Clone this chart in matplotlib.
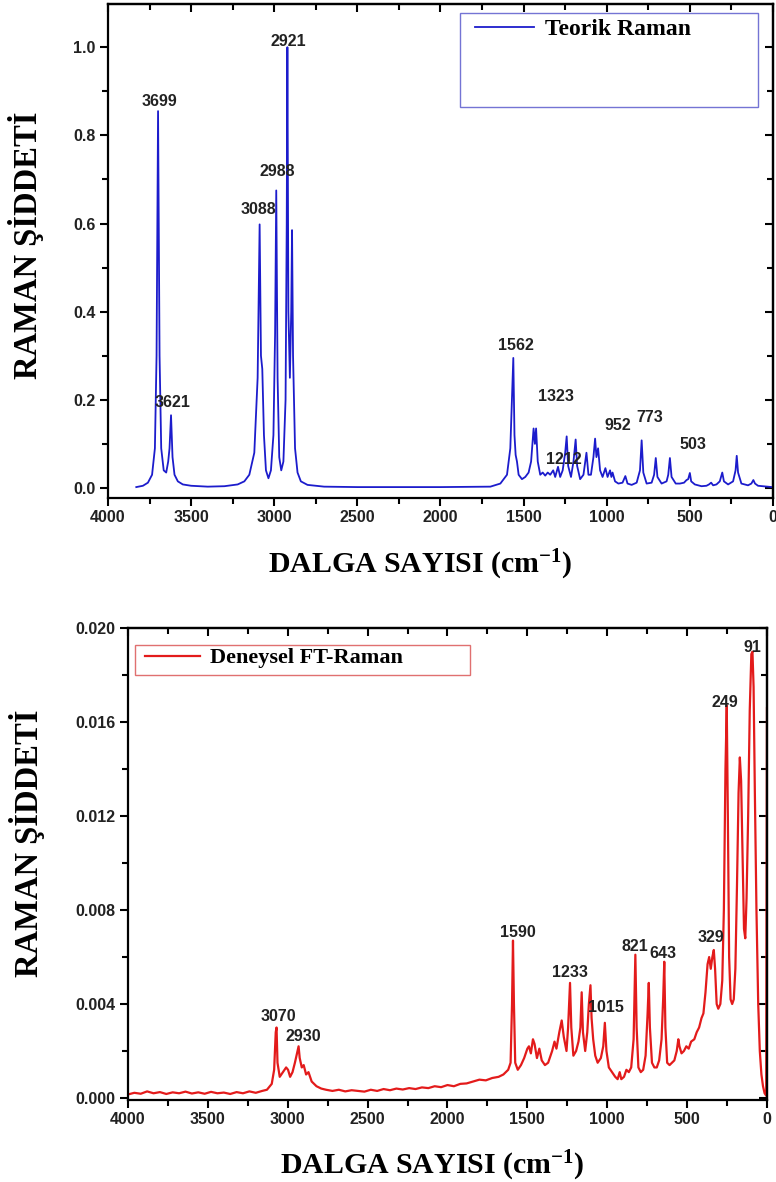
import matplotlib
matplotlib.use("Agg")
import matplotlib.pyplot as plt
from matplotlib.ticker import MultipleLocator, FormatStrFormatter
from matplotlib.patches import Rectangle

# ---------------- data ----------------
top_wavenumber = [3830, 3790, 3760, 3735, 3718, 3708, 3699, 3690, 3680, 3665, 3650, 3638, 3630,
                  3621, 3612, 3600, 3580, 3550, 3500, 3400, 3300, 3220, 3180, 3150, 3120, 3100,
                  3088, 3080, 3072, 3062, 3050, 3035, 3020, 3005, 2995, 2988, 2980, 2970, 2958,
                  2945, 2932, 2925, 2921, 2915, 2906, 2898, 2893, 2887, 2875, 2860, 2840, 2800,
                  2700, 2500, 2000, 1700, 1640, 1600, 1580, 1570, 1562, 1555, 1548, 1540, 1530,
                  1510, 1490, 1470, 1455, 1440, 1432, 1425, 1415, 1400, 1385, 1370, 1355, 1340,
                  1322, 1310, 1293, 1280, 1265, 1250, 1241, 1232, 1215, 1200, 1187, 1178, 1160,
                  1140, 1122, 1110, 1095, 1080, 1070, 1062, 1052, 1040, 1025, 1008, 995, 980,
                  972, 965, 950, 930, 905, 888, 875, 850, 820, 800, 790, 780, 760, 730, 715,
                  705, 695, 670, 640, 630, 620, 610, 585, 560, 535, 520, 510, 500, 492, 470,
                  430, 400, 385, 372, 360, 340, 320, 305, 295, 270, 240, 225, 218, 210, 190,
                  150, 130, 118, 108, 90, 60, 30, 5]
top_intensity = [0.002, 0.005, 0.012, 0.03, 0.09, 0.30, 0.855, 0.30, 0.09, 0.04, 0.035, 0.06, 0.09,
                 0.165, 0.07, 0.03, 0.015, 0.008, 0.005, 0.003, 0.004, 0.008, 0.015, 0.03, 0.08, 0.25,
                 0.598, 0.30, 0.27, 0.12, 0.04, 0.022, 0.04, 0.12, 0.35, 0.675, 0.25, 0.07, 0.04,
                 0.06, 0.20, 0.60, 1.0, 0.40, 0.25, 0.40, 0.585, 0.30, 0.09, 0.035, 0.015, 0.007,
                 0.003, 0.002, 0.002, 0.003, 0.01, 0.03, 0.09, 0.20, 0.295, 0.12, 0.075, 0.06, 0.03,
                 0.02, 0.025, 0.035, 0.06, 0.135, 0.10, 0.135, 0.06, 0.03, 0.035, 0.028, 0.035, 0.03,
                 0.04, 0.025, 0.048, 0.025, 0.04, 0.08, 0.117, 0.05, 0.025, 0.06, 0.11, 0.05, 0.02,
                 0.03, 0.08, 0.03, 0.03, 0.07, 0.112, 0.07, 0.09, 0.04, 0.025, 0.045, 0.025, 0.04,
                 0.025, 0.035, 0.015, 0.01, 0.012, 0.027, 0.01, 0.007, 0.012, 0.04, 0.108, 0.035, 0.01, 0.012, 0.03,
                 0.068, 0.025, 0.01, 0.015, 0.03, 0.068, 0.025, 0.01, 0.01, 0.012, 0.018, 0.02, 0.034, 0.015, 0.008,
                 0.004, 0.005, 0.008, 0.012, 0.006, 0.008, 0.015, 0.035, 0.015, 0.008, 0.015, 0.04, 0.073, 0.035, 0.01,
                 0.006, 0.01, 0.018, 0.01, 0.005, 0.004, 0.003, 0.002]

bottom_wavenumber = [4000, 3960, 3920, 3880, 3840, 3800, 3760, 3720, 3680, 3640, 3600, 3560, 3520,
                     3480, 3440, 3400, 3360, 3320, 3280, 3240, 3200, 3160, 3130, 3100, 3085, 3075,
                     3070, 3064, 3050, 3030, 3010, 2998, 2985, 2970, 2955, 2945, 2932, 2925, 2912,
                     2900, 2885, 2870, 2850, 2820, 2790, 2760, 2720, 2680, 2640, 2600, 2560, 2520,
                     2480, 2440, 2400, 2360, 2320, 2280, 2240, 2200, 2160, 2120, 2080, 2040, 2000,
                     1960, 1920, 1880, 1840, 1800, 1760, 1720, 1680, 1650, 1620, 1605, 1596, 1590,
                     1584, 1576, 1560, 1540, 1520, 1500, 1490, 1478, 1465, 1455, 1440, 1425, 1410,
                     1390, 1370, 1345, 1330, 1318, 1300, 1285, 1272, 1255, 1245, 1233, 1225, 1212,
                     1195, 1180, 1168, 1160, 1152, 1138, 1125, 1115, 1105, 1098, 1088, 1075, 1060,
                     1040, 1025, 1015, 1005, 990, 970, 950, 935, 922, 912, 895, 880, 865, 850, 835,
                     824, 816, 805, 790, 775, 760, 748, 740, 733, 720, 705, 690, 675, 660, 650, 643,
                     636, 625, 610, 595, 580, 565, 555, 548, 535, 520, 505, 490, 475, 455, 440, 425,
                     410, 398, 385, 372, 362, 352, 342, 333, 325, 315, 305, 292, 280, 270, 260, 252,
                     245, 237, 228, 218, 208, 198, 188, 178, 170, 162, 152, 144, 136, 128, 118, 108,
                     98, 91, 84, 76, 66, 55, 45, 35, 25, 15, 5, 0]
bottom_intensity = [0.00015, 0.00022, 0.00018, 0.00028, 0.00020, 0.00025, 0.00017, 0.00024, 0.00020,
                    0.00027, 0.00019, 0.00024, 0.00018, 0.00026, 0.00020, 0.00023, 0.00017, 0.00025,
                    0.00020, 0.00028, 0.00022, 0.00030, 0.00035, 0.0006, 0.0012, 0.0028, 0.0030,
                    0.0015, 0.0009, 0.0011, 0.0013, 0.0012, 0.0009, 0.0011, 0.0015, 0.0018, 0.0022,
                    0.0017, 0.0013, 0.0014, 0.0010, 0.0011, 0.0007, 0.0005, 0.0004, 0.00035, 0.0003,
                    0.00035, 0.00028, 0.00033, 0.0003, 0.00027, 0.00035, 0.0003, 0.00038, 0.00033,
                    0.0004, 0.00036, 0.00042, 0.00038, 0.00045, 0.00042, 0.0005, 0.00046, 0.00055,
                    0.0005, 0.0006, 0.00062, 0.0007, 0.00078, 0.00075, 0.00085, 0.0009, 0.0010,
                    0.0012, 0.0015, 0.0040, 0.0067, 0.0040, 0.0015, 0.0012, 0.0014, 0.0017, 0.0021,
                    0.0022, 0.0019, 0.0025, 0.0023, 0.0017, 0.0021, 0.0016, 0.0014, 0.0015, 0.0020,
                    0.0024, 0.0021, 0.0028, 0.0033, 0.0026, 0.0020, 0.0030, 0.0049, 0.0030, 0.0018,
                    0.0020, 0.0024, 0.0030, 0.0045, 0.0028, 0.0020, 0.0028, 0.0040, 0.0048, 0.0034,
                    0.0025, 0.0018, 0.0015, 0.0017, 0.0022, 0.0032, 0.0020, 0.0013, 0.0011, 0.0009,
                    0.0008, 0.0011, 0.0008, 0.0009, 0.0012, 0.0011, 0.0013, 0.0025, 0.0061, 0.0030,
                    0.0013, 0.0011, 0.0012, 0.0018, 0.0035, 0.0049, 0.0030, 0.0015, 0.0013, 0.0013,
                    0.0016, 0.0025, 0.0042, 0.0058, 0.0030, 0.0015, 0.0014, 0.0015, 0.0016, 0.0020,
                    0.0025, 0.0022, 0.0019, 0.0020, 0.0022, 0.0021, 0.0024, 0.0025, 0.0028, 0.0030,
                    0.0034, 0.0036, 0.0045, 0.0057, 0.0060, 0.0055, 0.0060, 0.0063, 0.0055, 0.0040,
                    0.0038, 0.0040, 0.0050, 0.0080, 0.0140, 0.0167, 0.0120, 0.0060, 0.0042, 0.0040,
                    0.0042, 0.0055, 0.0090, 0.0130, 0.0145, 0.0135, 0.0100, 0.0072, 0.0068, 0.0085,
                    0.0120, 0.0165, 0.0189, 0.0190, 0.0175, 0.0130, 0.0080, 0.0040, 0.0020, 0.0010,
                    0.0005, 0.0002, 0.0001, 0.0166]

# peak labels: (text, x, y) in data coordinates
top_labels = [("3699", 3690, 0.877), ("3621", 3615, 0.193), ("3088", 3098, 0.632),
              ("2988", 2983, 0.718), ("2921", 2917, 1.014), ("1562", 1545, 0.323),
              ("1323", 1305, 0.207), ("1212", 1257, 0.064), ("952", 932, 0.141),
              ("773", 740, 0.161), ("503", 481, 0.098)]
bottom_labels = [("3070", 3061, 0.00345), ("2930", 2905, 0.0026), ("1590", 1559, 0.00706),
                 ("1233", 1235, 0.00535), ("1015", 1010, 0.00385), ("821", 826, 0.00643),
                 ("643", 651, 0.00617), ("329", 351, 0.00685), ("249", 263, 0.01685),
                 ("91", 94, 0.0192)]

top_legend = "Teorik Raman"
bottom_legend = "Deneysel FT-Raman"
ylabel_text = "RAMAN ŞİDDETİ"
xlabel_text = "DALGA SAYISI (cm$^{-1}$)"

# ---------------- style ----------------
plt.rcParams['mathtext.fontset'] = 'custom'
plt.rcParams['mathtext.rm'] = 'Liberation Serif:bold'
plt.rcParams['mathtext.it'] = 'Liberation Serif:bold'
plt.rcParams['mathtext.bf'] = 'Liberation Serif:bold'

SERIF = 'Liberation Serif'
SANS = 'Liberation Sans'
TICK_COLOR = '#222222'
BLUE = '#1c1ccc'
RED = '#e31b1b'

fig = plt.figure(figsize=(7.76, 11.82), dpi=100)
ax1 = fig.add_axes([0.1392, 0.5787, 0.8569, 0.4179])
ax2 = fig.add_axes([0.1649, 0.0694, 0.8235, 0.3993])


def style_axes(ax, ymaj, ymin, yfmt, ylim):
    ax.set_xlim(4000, 0)
    ax.set_ylim(*ylim)
    for s in ax.spines.values():
        s.set_linewidth(1.6)
        s.set_color('black')
    ax.xaxis.set_major_locator(MultipleLocator(500))
    ax.xaxis.set_minor_locator(MultipleLocator(250))
    ax.yaxis.set_major_locator(MultipleLocator(ymaj))
    ax.yaxis.set_minor_locator(MultipleLocator(ymin))
    ax.xaxis.set_major_formatter(FormatStrFormatter('%d'))
    ax.yaxis.set_major_formatter(FormatStrFormatter(yfmt))
    ax.tick_params(which='both', direction='out', width=1.5, colors='black',
                   top=False, right=False)
    ax.tick_params(which='major', length=6)
    ax.tick_params(which='minor', length=4)
    ax.tick_params(axis='x', pad=3)
    ax.tick_params(axis='y', pad=3)
    for lab in ax.get_xticklabels() + ax.get_yticklabels():
        lab.set_fontfamily(SANS)
        lab.set_fontweight('bold')
        lab.set_fontsize(11.5)
        lab.set_color(TICK_COLOR)
    # top / right axes with inward ticks
    sx = ax.secondary_xaxis('top')
    sx.xaxis.set_major_locator(MultipleLocator(500))
    sx.xaxis.set_minor_locator(MultipleLocator(250))
    sx.tick_params(which='both', direction='in', width=1.5, labeltop=False)
    sx.tick_params(which='major', length=6)
    sx.tick_params(which='minor', length=4)
    sx.spines['top'].set_linewidth(1.6)
    sy = ax.secondary_yaxis('right')
    sy.yaxis.set_major_locator(MultipleLocator(ymaj))
    sy.yaxis.set_minor_locator(MultipleLocator(ymin))
    sy.tick_params(which='both', direction='in', width=1.5, labelright=False)
    sy.tick_params(which='major', length=6)
    sy.tick_params(which='minor', length=4)
    sy.spines['right'].set_linewidth(1.6)


# ---------------- top panel ----------------
l1, = ax1.plot(top_wavenumber, top_intensity, color=BLUE, lw=1.3)
style_axes(ax1, 0.2, 0.1, '%.1f', (-0.0227, 1.098))
for t, x, y in top_labels:
    ax1.text(x, y, t, ha='center', va='center', fontfamily=SANS, fontweight='bold',
             fontsize=11.5, color=TICK_COLOR)
ax1.add_patch(Rectangle((0.529, 0.791), 0.448, 0.191, transform=ax1.transAxes,
                        facecolor='none', edgecolor='#7474d4', lw=1.0, zorder=5))
ax1.legend([l1], [top_legend], loc='upper left', bbox_to_anchor=(0.538, 0.99),
           frameon=False, handlelength=2.5, handletextpad=0.45, borderaxespad=0,
           prop={'family': SERIF, 'weight': 'bold', 'size': 17})
ax1.set_ylabel(ylabel_text, fontfamily=SERIF, fontweight='bold', fontsize=23.5)
ax1.yaxis.set_label_coords(-0.096, 0.512)
ax1.set_xlabel(xlabel_text, fontfamily=SERIF, fontweight='bold', fontsize=21.5)
ax1.xaxis.set_label_coords(0.469, -0.101)

# ---------------- bottom panel ----------------
l2, = ax2.plot(bottom_wavenumber, bottom_intensity, color=RED, lw=1.6)
style_axes(ax2, 0.004, 0.002, '%.3f', (-0.000085, 0.02001))
for t, x, y in bottom_labels:
    ax2.text(x, y, t, ha='center', va='center', fontfamily=SANS, fontweight='bold',
             fontsize=11.5, color=TICK_COLOR)
ax2.add_patch(Rectangle((0.011, 0.900), 0.524, 0.064, transform=ax2.transAxes,
                        facecolor='none', edgecolor='#e07070', lw=1.0, zorder=5))
ax2.legend([l2], [bottom_legend], loc='upper left', bbox_to_anchor=(0.0125, 0.977),
           frameon=False, handlelength=2.5, handletextpad=0.45, borderaxespad=0,
           prop={'family': SERIF, 'weight': 'bold', 'size': 16})
ax2.set_ylabel(ylabel_text, fontfamily=SERIF, fontweight='bold', fontsize=23.5)
ax2.yaxis.set_label_coords(-0.130, 0.544)
ax2.set_xlabel(xlabel_text, fontfamily=SERIF, fontweight='bold', fontsize=21.5)
ax2.xaxis.set_label_coords(0.476, -0.104)

fig.savefig('out.png', dpi=100)
